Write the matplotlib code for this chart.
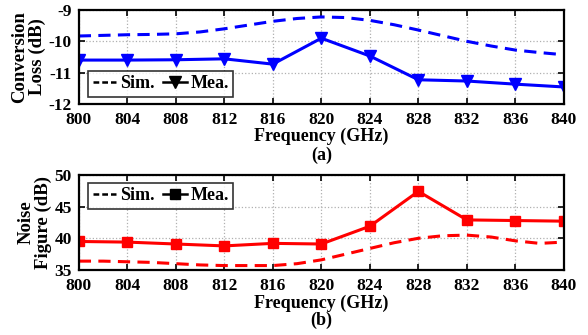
import numpy as np
import matplotlib
matplotlib.use('Agg')
from matplotlib import pyplot as plt

freq = [800, 804, 808, 812, 816, 820, 824, 828, 832, 836, 840]
freq_sim = [800, 802, 804, 806, 808, 810, 812, 814, 816, 818, 820, 822, 824,
            826, 828, 830, 832, 834, 836, 838, 840]

cl_mea = [-10.6, -10.6, -10.59, -10.56, -10.73, -9.9, -10.47, -11.23, -11.27, -11.37, -11.46]
cl_sim = [-9.83, -9.81, -9.79, -9.78, -9.76, -9.70, -9.60, -9.48, -9.36, -9.27, -9.22,
          -9.24, -9.33, -9.47, -9.64, -9.82, -10.0, -10.15, -10.28, -10.36, -10.43]

nf_mea = [39.5, 39.4, 39.1, 38.8, 39.2, 39.1, 41.9, 47.4, 42.9, 42.8, 42.7]
nf_sim = [36.4, 36.4, 36.3, 36.2, 36.0, 35.8, 35.7, 35.7, 35.7, 36.0, 36.6,
          37.5, 38.4, 39.3, 40.0, 40.4, 40.5, 40.2, 39.6, 39.2, 39.4]

plt.rcParams['font.family'] = ['Liberation Serif', 'DejaVu Serif']
plt.rcParams['font.weight'] = 'bold'
plt.rcParams['font.size'] = 12.5
plt.rcParams['axes.unicode_minus'] = False

fig = plt.figure(figsize=(5.88, 3.35), dpi=100)
ax1 = fig.add_axes([0.134, 0.690, 0.825, 0.280])
ax2 = fig.add_axes([0.134, 0.194, 0.825, 0.284])

def style(ax):
    ax.set_xlim(800, 840)
    ax.set_xticks(freq)
    ax.grid(True, linestyle=':', color='#b0b0b0', linewidth=0.9)
    ax.tick_params(direction='in', top=True, right=True, length=4, width=1.2, labelsize=12.5)
    ax.tick_params(axis='x', pad=6)
    ax.tick_params(axis='y', pad=5)
    for s in ax.spines.values():
        s.set_linewidth(1.6)
    for t in ax.get_xticklabels() + ax.get_yticklabels():
        t.set_fontweight('bold')
    ax.set_xlabel('Frequency (GHz)', fontsize=13, fontweight='bold', labelpad=0)

def legend(ax, loc, anchor):
    leg = ax.legend(loc=loc, ncol=2, frameon=True, fancybox=False, edgecolor='black',
                    handlelength=1.3, handletextpad=0.2, columnspacing=0.5, borderpad=0.25,
                    borderaxespad=0, bbox_to_anchor=anchor, prop={'weight': 'bold', 'size': 13})
    for h in leg.legend_handles:
        h.set_color('black')
    leg.legend_handles[0].set_linestyle((0, (2.3, 1.2)))
    leg.legend_handles[0].set_linewidth(1.8)
    leg.legend_handles[1].set_linewidth(1.8)
    leg.get_frame().set_linewidth(1.2)

dash = (0, (4, 2.4))

ax1.plot(freq_sim, cl_sim, color='blue', linestyle=dash, linewidth=2.2, label='Sim.')
ax1.plot(freq, cl_mea, color='blue', linewidth=2.2, marker='v', markersize=8, label='Mea.')
ax1.set_ylim(-12, -9)
ax1.set_yticks([-12, -11, -10, -9])
ax1.set_ylabel('Conversion\nLoss (dB)', fontsize=13.5, fontweight='bold', linespacing=1.0, labelpad=2)
style(ax1)
legend(ax1, 'lower left', (0.019, 0.074))
ax1.text(0.5, -0.46, '(a)', transform=ax1.transAxes, ha='center', va='top', fontsize=13, fontweight='bold')

ax2.plot(freq_sim, nf_sim, color='red', linestyle=dash, linewidth=2.2, label='Sim.')
ax2.plot(freq, nf_mea, color='red', linewidth=2.2, marker='s', markersize=7, label='Mea.')
ax2.set_ylim(35, 50)
ax2.set_yticks([35, 40, 45, 50])
ax2.set_ylabel('Noise\nFigure (dB)', fontsize=13.5, fontweight='bold', linespacing=1.0, labelpad=2)
style(ax2)
legend(ax2, 'upper left', (0.019, 0.916))
ax2.text(0.5, -0.44, '(b)', transform=ax2.transAxes, ha='center', va='top', fontsize=13, fontweight='bold')

fig.savefig('out.png', dpi=100)
